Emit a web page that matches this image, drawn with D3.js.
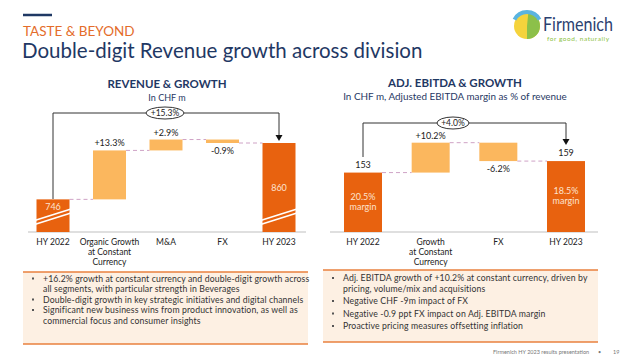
<!DOCTYPE html>
<html lang="en">
<head>
  <meta charset="UTF-8">
  <title>Double-digit Revenue growth across division</title>
  <script src="https://d3js.org/d3.v7.min.js"></script>
  <style>
    body { margin: 0; background: #fff; font-family: Lato, "Open Sans", sans-serif; }
  </style>
</head>
<body>
  <div id="chart"></div>

  <script>
    // Revenue waterfall (CHF m)
    const revCats = ["HY 2022", "Organic Growth|at Constant|Currency", "M&A", "FX", "HY 2023"];
    const revStart = 746;
    const revSteps = [99, 22, -7];
    const revStepLabels = ["+13.3%", "+2.9%", "-0.9%"];
    const revEnd = 860;
    const revTotalGrowth = "+15.3%";

    // Adj. EBITDA waterfall (CHF m)
    const ebCats = ["HY 2022", "Growth|at Constant|Currency", "FX", "HY 2023"];
    const ebStart = 153;
    const ebSteps = [15.6, -9.6];
    const ebStepLabels = ["+10.2%", "-6.2%"];
    const ebEnd = 159;
    const ebMargins = ["20.5%", "18.5%"];
    const ebTotalGrowth = "+4.0%";

    const leftBullets = [
      ["+16.2% growth at constant currency and double-digit growth across", "all segments, with particular strength in Beverages"],
      ["Double-digit growth in key strategic initiatives and digital channels"],
      ["Significant new business wins from product innovation, as well as", "commercial focus and consumer insights"]
    ];
    const rightBullets = [
      ["Adj. EBITDA growth of +10.2% at constant currency, driven by", "pricing, volume/mix and acquisitions"],
      ["Negative CHF -9m impact of FX"],
      ["Negative -0.9 ppt FX impact on Adj. EBITDA margin"],
      ["Proactive pricing measures offsetting inflation"]
    ];

    const width = 640, height = 363;
    const dark = "#e8620f", light = "#fbb75e", navy = "#1f3864", txt = "#222";

    const svg = d3.select("#chart").append("svg")
        .attr("width", width)
        .attr("height", height)
        .attr("viewBox", [0, 0, width, height]);

    // ---- header
    svg.append("line").attr("x1", 23).attr("x2", 52).attr("y1", 15).attr("y2", 15)
        .attr("stroke", navy).attr("stroke-width", 2.5);
    svg.append("text").attr("x", 23).attr("y", 36).attr("fill", "#e46c2a")
        .attr("font-size", 13.5).text("TASTE & BEYOND");
    svg.append("text").attr("x", 22).attr("y", 58).attr("fill", navy)
        .attr("font-size", 20.5).text("Double-digit Revenue growth across division");

    // logo
    const logo = svg.append("g").attr("transform", "translate(527,26)");
    logo.append("circle").attr("r", 13).attr("fill", "#f5d33c");
    logo.append("path").attr("d", d3.arc()({innerRadius: 0, outerRadius: 13, startAngle: 0.1, endAngle: Math.PI}))
        .attr("fill", "#8cc04a");
    logo.append("path").attr("d", d3.arc()({innerRadius: 12, outerRadius: 16, startAngle: -1.1, endAngle: 1.1}))
        .attr("fill", "#5ab4e0");
    svg.append("text").attr("x", 543).attr("y", 31).attr("fill", "#2b4170")
        .attr("font-size", 19).attr("textLength", 70).attr("lengthAdjust", "spacingAndGlyphs").text("Firmenich");
    svg.append("text").attr("x", 547).attr("y", 41).attr("fill", "#8cbf3f")
        .attr("font-size", 6.5).attr("textLength", 62).text("for good, naturally");

    // ---- generic waterfall
    function waterfall(g, o) {
      const x = d3.scalePoint().domain(o.cats).range(o.xRange);
      const y = d3.scaleLinear().domain(o.yDomain).range([o.base, o.yTop]);
      const bw = o.barWidth;

      // cumulative steps
      let level = o.start;
      const steps = o.steps.map((v, i) => {
        const s = {cat: o.cats[i + 1], from: level, to: level + v, label: o.stepLabels[i]};
        level += v;
        return s;
      });

      // title
      g.append("text").attr("x", o.titleX).attr("y", o.titleY).attr("text-anchor", "middle")
          .attr("fill", navy).attr("font-weight", "bold").attr("font-size", 11.5).text(o.title);
      g.append("text").attr("x", o.titleX).attr("y", o.titleY + 13).attr("text-anchor", "middle")
          .attr("fill", navy).attr("font-size", o.subSize).text(o.subtitle);

      // dashed connectors
      const conn = [{a: o.cats[0], b: steps[0].cat, v: o.start}]
        .concat(steps.map((s, i) => ({a: s.cat, b: i < steps.length - 1 ? steps[i + 1].cat : o.cats[o.cats.length - 1], v: s.to})));
      g.append("g").attr("stroke", "#cfa3c6").attr("stroke-dasharray", "4,3").attr("stroke-width", 1)
        .selectAll("line").data(conn).join("line")
          .attr("x1", d => x(d.a) + bw / 2).attr("x2", d => x(d.b) - bw / 2)
          .attr("y1", d => y(d.v)).attr("y2", d => y(d.v));

      // baseline
      g.append("line").attr("x1", o.axisX[0]).attr("x2", o.axisX[1]).attr("y1", o.base).attr("y2", o.base)
          .attr("stroke", "#bfbfbf").attr("stroke-width", 1);

      // total bars
      const totals = [{cat: o.cats[0], v: o.start}, {cat: o.cats[o.cats.length - 1], v: o.end}];
      g.append("g").selectAll("rect").data(totals).join("rect")
          .attr("x", d => x(d.cat) - bw / 2).attr("width", bw)
          .attr("y", d => y(d.v)).attr("height", d => o.base - y(d.v))
          .attr("fill", dark);

      // step bars
      g.append("g").selectAll("rect").data(steps).join("rect")
          .attr("x", d => x(d.cat) - bw / 2).attr("width", bw)
          .attr("y", d => y(Math.max(d.from, d.to)))
          .attr("height", d => Math.abs(y(d.from) - y(d.to)))
          .attr("fill", light);

      g.append("g").attr("font-size", 9).attr("fill", txt).attr("text-anchor", "middle")
        .selectAll("text").data(steps).join("text")
          .attr("x", d => x(d.cat))
          .attr("y", d => d.to >= d.from ? y(d.to) - 4 : y(d.to) + 11)
          .text(d => d.label);

      // category labels
      const cl = g.append("g").attr("font-size", 8.5).attr("fill", txt).attr("text-anchor", "middle")
        .selectAll("text").data(o.cats).join("text")
          .attr("x", d => x(d)).attr("y", o.base + 13);
      cl.selectAll("tspan").data(d => d.split("|")).join("tspan")
          .attr("x", function () { return x(d3.select(this.parentNode).datum()); })
          .attr("dy", (d, i) => i === 0 ? 0 : 10)
          .text(d => d);

      // growth bracket
      const x0 = x(o.cats[0]), x1 = x(o.cats[o.cats.length - 1]);
      g.append("path")
          .attr("d", `M${x0},${o.bracketFrom}V${o.bracketY}H${x1}V${o.arrowTo - 5}`)
          .attr("fill", "none").attr("stroke", "#333").attr("stroke-width", 1);
      g.append("path")
          .attr("d", `M${x1 - 3.5},${o.arrowTo - 6}L${x1 + 3.5},${o.arrowTo - 6}L${x1},${o.arrowTo}Z`)
          .attr("fill", "#111");
      g.append("ellipse").attr("cx", o.titleX - 2).attr("cy", o.bracketY).attr("rx", o.ellipseRx).attr("ry", 6)
          .attr("fill", "#fff").attr("stroke", "#333").attr("stroke-width", 1);
      g.append("text").attr("x", o.titleX - 2).attr("y", o.bracketY + 3).attr("text-anchor", "middle")
          .attr("font-size", 8.5).attr("fill", txt).text(o.totalGrowth);

      return {x, y, totals};
    }

    // ---- revenue chart
    const rev = waterfall(svg.append("g"), {
      cats: revCats, start: revStart, steps: revSteps, stepLabels: revStepLabels, end: revEnd,
      xRange: [53, 279], barWidth: 33, yDomain: [680, 860], base: 232, yTop: 143,
      axisX: [28, 306], title: "REVENUE & GROWTH", subtitle: "In CHF m", subSize: 9, titleX: 167, titleY: 88,
      totalGrowth: revTotalGrowth, bracketY: 113, bracketFrom: 199, arrowTo: 141, ellipseRx: 19
    });
    // values inside bars
    svg.append("g").attr("font-size", 9).attr("fill", "#fde3cf").attr("text-anchor", "middle")
      .selectAll("text").data(rev.totals).join("text")
        .attr("x", d => rev.x(d.cat))
        .attr("y", (d, i) => i === 0 ? rev.y(d.v) + 11 : rev.y(d.v) + 48)
        .text(d => d.v);
    // axis break marks
    svg.append("g").attr("stroke", "#fff").attr("stroke-width", 1.6)
      .selectAll("path").data(rev.totals).join("path")
        .attr("d", d => {
          const cx = rev.x(d.cat);
          return `M${cx - 20},${221}L${cx + 18},${209}M${cx - 20},${225}L${cx + 18},${213}`;
        });

    // ---- EBITDA chart
    const eb = waterfall(svg.append("g"), {
      cats: ebCats, start: ebStart, steps: ebSteps, stepLabels: ebStepLabels, end: ebEnd,
      xRange: [363, 566], barWidth: 38, yDomain: [122, 170], base: 232, yTop: 140,
      axisX: [330, 598], title: "ADJ. EBITDA & GROWTH",
      subtitle: "In CHF m, Adjusted EBITDA margin as % of revenue", subSize: 9.9, titleX: 455, titleY: 87,
      totalGrowth: ebTotalGrowth, bracketY: 123, bracketFrom: 157, arrowTo: 145, ellipseRx: 16
    });
    svg.append("g").attr("font-size", 9).attr("fill", txt).attr("text-anchor", "middle")
      .selectAll("text").data(eb.totals).join("text")
        .attr("x", d => eb.x(d.cat)).attr("y", d => eb.y(d.v) - 5).text(d => d.v);
    const mg = svg.append("g").attr("font-size", 9).attr("fill", "#fde3cf").attr("text-anchor", "middle")
      .selectAll("text").data(eb.totals).join("text")
        .attr("x", d => eb.x(d.cat))
        .attr("y", (d, i) => i === 0 ? 200 : 194);
    mg.append("tspan").text((d, i) => ebMargins[i]);
    mg.append("tspan").attr("x", d => eb.x(d.cat)).attr("dy", 10).text("margin");

    // ---- bullet boxes
    function bulletBox(x0, x1, y0, y1, items, lineStart, lineGap, itemGap) {
      const g = svg.append("g");
      g.append("rect").attr("x", x0).attr("y", y0).attr("width", x1 - x0).attr("height", y1 - y0)
          .attr("fill", "#fdf0e3");
      g.append("line").attr("x1", x0).attr("x2", x1).attr("y1", y0).attr("y2", y0)
          .attr("stroke", "#e8813e").attr("stroke-width", 1.5);
      g.append("line").attr("x1", x0).attr("x2", x1).attr("y1", y1).attr("y2", y1)
          .attr("stroke", "#e8813e").attr("stroke-width", 1.5);
      let yy = lineStart;
      items.forEach(lines => {
        g.append("rect").attr("x", x0 + 9).attr("y", yy - 4).attr("width", 2).attr("height", 2).attr("fill", "#555");
        lines.forEach(l => {
          g.append("text").attr("x", x0 + 20).attr("y", yy).attr("font-size", 8.7)
              .attr("letter-spacing", 0.12).attr("fill", "#333").text(l);
          yy += lineGap;
        });
        yy += itemGap;
      });
    }
    bulletBox(23, 308, 272, 344, leftBullets, 281.5, 10.5, 0);
    bulletBox(323, 598, 270, 342, rightBullets, 281, 10.5, 2);

    // footer
    svg.append("text").attr("x", 493).attr("y", 354).attr("font-size", 5.5).attr("fill", "#777")
        .text("Firmenich HY 2023 results presentation");
    svg.append("text").attr("x", 598).attr("y", 354).attr("font-size", 5.5).attr("fill", "#777").text("•");
    svg.append("text").attr("x", 613).attr("y", 354).attr("font-size", 5.5).attr("fill", "#777").text("19");
  </script>
</body>
</html>
